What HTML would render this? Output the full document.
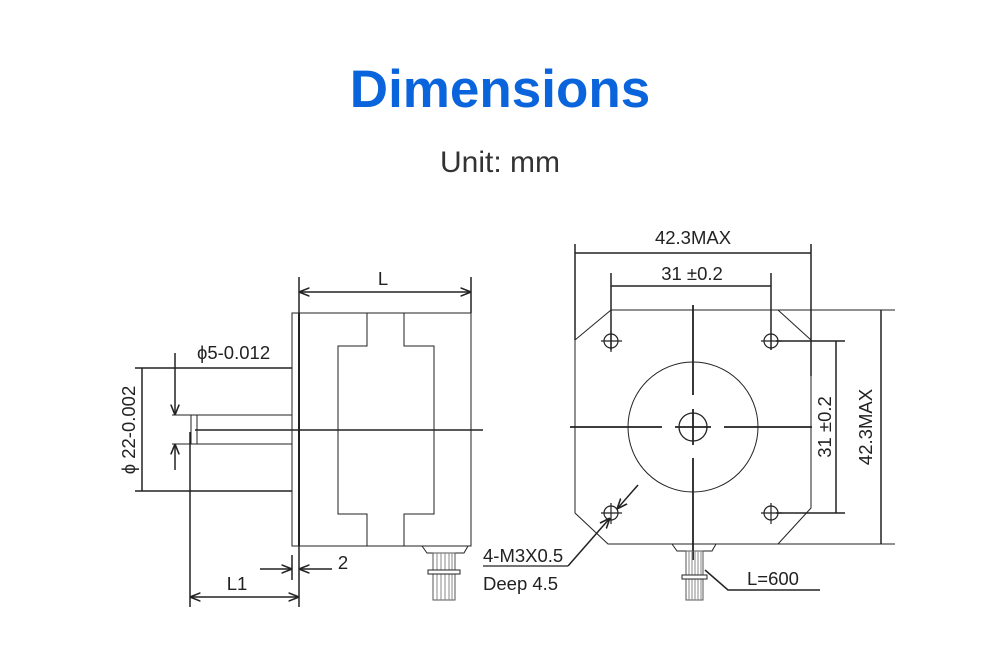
<!DOCTYPE html>
<html><head><meta charset="utf-8"><style>
html,body{margin:0;padding:0;background:#fff;width:1000px;height:661px;overflow:hidden}
svg{display:block}
</style></head><body>
<svg width="1000" height="661" viewBox="0 0 1000 661" xmlns="http://www.w3.org/2000/svg" font-family="Liberation Sans, sans-serif">
<defs>
<marker id="a" viewBox="0 0 10 10" refX="10" refY="5" markerWidth="7" markerHeight="7" orient="auto-start-reverse"><path d="M0,1 L10,5 L0,9" fill="none" stroke="#222" stroke-width="1.5"/></marker>
</defs>
<text x="500" y="107" text-anchor="middle" font-size="53" font-weight="bold" fill="#0a64dc">Dimensions</text>
<text x="500" y="172" text-anchor="middle" font-size="30" fill="#333">Unit: mm</text>

<g stroke="#222" fill="none" stroke-width="1">
<rect x="292" y="313" width="179" height="233"/>
<line x1="299" y1="313" x2="299" y2="546" stroke-width="2"/>
<path d="M367,313 V346 H338 V514 H367 V546 M404,313 V346 H434 V514 H404 V546"/>
<line x1="197" y1="415" x2="292" y2="415"/>
<line x1="197" y1="444" x2="292" y2="444"/>
<rect x="191" y="415" width="6" height="29"/>
<line x1="195" y1="430" x2="483" y2="430" stroke-width="1.5"/>
<line x1="135" y1="368" x2="292" y2="368" stroke-width="1.5"/>
<line x1="135" y1="491" x2="292" y2="491" stroke-width="1.5"/>
<line x1="142" y1="368" x2="142" y2="491" stroke-width="1.5"/>
<line x1="175" y1="353" x2="175" y2="415" stroke-width="1.5" marker-end="url(#a)"/>
<line x1="175" y1="470" x2="175" y2="444" stroke-width="1.5" marker-end="url(#a)"/>
<line x1="172" y1="415" x2="197" y2="415"/>
<line x1="172" y1="444" x2="197" y2="444"/>
<line x1="190" y1="432" x2="190" y2="607" stroke-width="1.5"/>
<line x1="299" y1="546" x2="299" y2="607" stroke-width="1.5"/>
<line x1="190" y1="597" x2="299" y2="597" stroke-width="1.5" marker-start="url(#a)" marker-end="url(#a)"/>
<line x1="292" y1="555" x2="292" y2="580" stroke-width="1.5"/>
<line x1="260" y1="569" x2="292" y2="569" stroke-width="1.5" marker-end="url(#a)"/>
<line x1="332" y1="569" x2="299" y2="569" stroke-width="1.5" marker-end="url(#a)"/>
<line x1="299" y1="277" x2="299" y2="313" stroke-width="1.5"/>
<line x1="471" y1="277" x2="471" y2="313" stroke-width="1.5"/>
<line x1="299" y1="292" x2="471" y2="292" stroke-width="1.5" marker-start="url(#a)" marker-end="url(#a)"/>
<path d="M422,546 L427,553 H464 L468,546"/>
<rect x="433" y="553" width="22" height="47" stroke="#555"/>
<path d="M437,553 V600 M441,553 V600 M445,553 V600 M449,553 V600 M452,553 V600" stroke="#888"/>
<rect x="428" y="570" width="32" height="4" fill="#fff"/>

<path d="M611,310 H895 M575,340 L611,310 M575,340 V513 L608,544 H895 M778,310 L811,340 M811,340 V508 L778,544"/>
<line x1="575" y1="244" x2="575" y2="340" stroke-width="1.5"/>
<line x1="811" y1="244" x2="811" y2="376" stroke-width="1.5"/>
<line x1="575" y1="253" x2="811" y2="253" stroke-width="1.5"/>
<line x1="611" y1="273" x2="611" y2="350" stroke-width="1.5"/>
<line x1="771" y1="273" x2="771" y2="350" stroke-width="1.5"/>
<line x1="611" y1="286" x2="771" y2="286" stroke-width="1.5"/>
<line x1="881" y1="310" x2="881" y2="544" stroke-width="1.5"/>
<line x1="776" y1="341" x2="845" y2="341" stroke-width="1.5"/>
<line x1="776" y1="513" x2="845" y2="513" stroke-width="1.5"/>
<line x1="836" y1="341" x2="836" y2="513" stroke-width="1.5"/>
<g stroke-width="1.2">
<circle cx="611" cy="341" r="7"/><path d="M601,341 H622 M611,331 V352"/>
<circle cx="771" cy="341" r="7"/><path d="M761,341 H782"/>
<circle cx="611" cy="513" r="7"/><path d="M601,513 H622 M611,503 V524"/>
<circle cx="771" cy="513" r="7"/><path d="M761,513 H782 M771,503 V524"/>
</g>
<circle cx="693" cy="427" r="65"/>
<circle cx="693" cy="427" r="14" stroke-width="1.3"/>
<path d="M570,427 H662 M675,427 H711 M724,427 H812 M693,305 V395 M693,409 V445 M693,458 V560" stroke-width="1.8"/>
<path d="M672,544 L677,551 H712 L716,544"/>
<rect x="686" y="551" width="17" height="49" stroke="#555"/>
<path d="M689,551 V600 M692,551 V600 M695,551 V600 M698,551 V600 M701,551 V600" stroke="#888"/>
<rect x="682" y="575" width="25" height="4" fill="#fff"/>
<path d="M705,570 L728,590 H820" stroke-width="1.5"/>
<line x1="638" y1="485" x2="617" y2="509" stroke-width="1.5" marker-end="url(#a)"/>
<line x1="568" y1="566" x2="610" y2="518" stroke-width="1.5" marker-end="url(#a)"/>
<line x1="483" y1="566" x2="568" y2="566" stroke-width="1.2"/>
</g>

<g fill="#222" font-size="18.5">
<text x="383" y="285" text-anchor="middle">L</text>
<text x="197" y="359">ϕ5-0.012</text>
<text x="130" y="430" text-anchor="middle" transform="rotate(-90 130 430)" dominant-baseline="middle">ϕ 22-0.002</text>
<text x="237" y="590" text-anchor="middle">L1</text>
<text x="343" y="569" text-anchor="middle">2</text>
<text x="693" y="244" text-anchor="middle">42.3MAX</text>
<text x="692" y="280" text-anchor="middle">31 ±0.2</text>
<text x="826" y="427" text-anchor="middle" dominant-baseline="middle" transform="rotate(-90 826 427)">31 ±0.2</text>
<text x="867" y="427" text-anchor="middle" dominant-baseline="middle" transform="rotate(-90 867 427)">42.3MAX</text>
<text x="773" y="585" text-anchor="middle">L=600</text>
<text x="483" y="562">4-M3X0.5</text>
<text x="483" y="590">Deep  4.5</text>
</g>
</svg>
</body></html>
